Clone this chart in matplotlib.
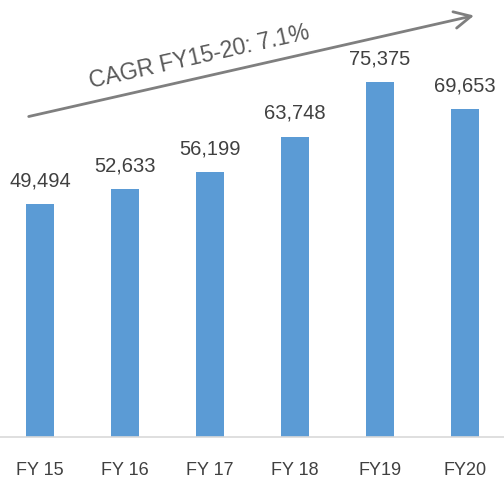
import matplotlib.pyplot as plt

# data
years = ["FY 15", "FY 16", "FY 17", "FY 18", "FY19", "FY20"]
values = [49494, 52633, 56199, 63748, 75375, 69653]
cagr_label = "CAGR FY15-20: 7.1%"

plt.rcParams['font.family'] = ['Liberation Sans', 'DejaVu Sans']

fig = plt.figure(figsize=(5.04, 4.82), dpi=100)
ax = fig.add_axes([0, 0.0934, 1, 0.9066])

x = list(range(len(years)))
bars = ax.bar(x, values, width=0.32, color='#5B9BD5')

for xi, v in zip(x, values):
    ax.annotate(f"{v:,}", (xi, v), xytext=(0, 10), textcoords='offset points',
                ha='center', va='bottom', fontsize=14.5, color='#404040')

ax.set_xlim(-0.47, 5.46)
ax.set_ylim(0, 92800)
ax.set_yticks([])
ax.set_xticks(x)
ax.set_xticklabels(years, fontsize=13, color='#404040')
ax.tick_params(axis='x', length=0, pad=18)
for s in ['top', 'left', 'right']:
    ax.spines[s].set_visible(False)
ax.spines['bottom'].set_color('#d9d9d9')
ax.spines['bottom'].set_linewidth(1.2)
ax.patch.set_visible(False)

# CAGR arrow
fig.patches.append(plt.matplotlib.patches.FancyArrowPatch(
    (0.0516, 0.757), (0.946, 0.969), transform=fig.transFigure,
    arrowstyle='->,head_length=12,head_width=6', color='#7f7f7f',
    linewidth=2, mutation_scale=1))
fig.text(199 / 504, 1 - 57 / 482, cagr_label, rotation=12.7, ha='center',
         va='center', fontsize=16.5, color='#595959', rotation_mode='anchor')

fig.savefig("out.png", dpi=100)
